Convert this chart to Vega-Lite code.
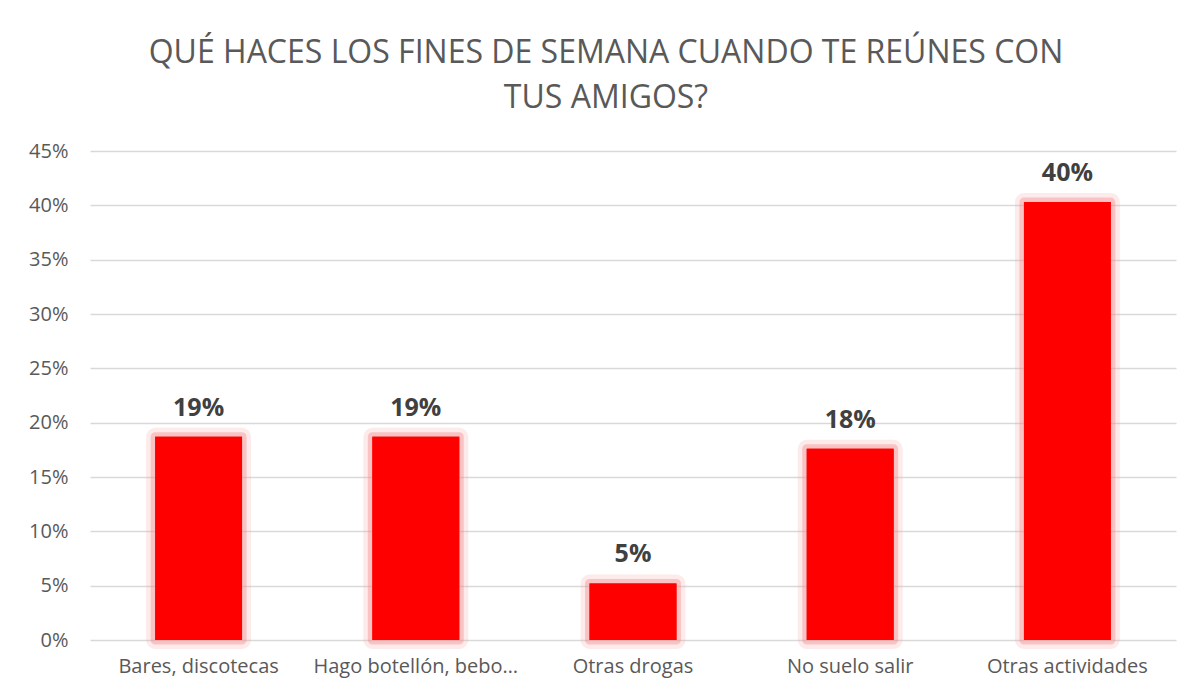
{
  "$schema": "https://vega.github.io/schema/vega-lite/v6.json",
  "autosize": "none",
  "width": 1086,
  "height": 489,
  "padding": {"left": 90, "top": 151, "right": 22, "bottom": 60},
  "background": "white",
  "config": {"view": {"stroke": null}, "font": "Open Sans"},
  "title": {
    "text": ["QUÉ HACES LOS FINES DE SEMANA CUANDO TE REÚNES CON", "TUS AMIGOS?"],
    "anchor": "middle",
    "frame": "group",
    "dx": -27,
    "fontSize": 32,
    "fontWeight": "normal",
    "font": "Open Sans",
    "color": "#595959",
    "lineHeight": 45,
    "offset": 26
  },
  "data": {
    "values": [
      {"cat": "Bares, discotecas", "v": 0.187, "label": "19%"},
      {"cat": "Hago botellón, bebo…", "v": 0.187, "label": "19%"},
      {"cat": "Otras drogas", "v": 0.052, "label": "5%"},
      {"cat": "No suelo salir", "v": 0.176, "label": "18%"},
      {"cat": "Otras actividades", "v": 0.403, "label": "40%"}
    ]
  },
  "encoding": {
    "x": {
      "field": "cat", "type": "nominal", "sort": null,
      "scale": {"paddingInner": 0.6, "paddingOuter": 0.3},
      "axis": {"title": null, "labelAngle": 0, "labelFontSize": 20, "labelColor": "#595959", "domain": false, "ticks": false, "labelPadding": 16, "labelFont": "Open Sans", "labelLimit": 400}
    },
    "y": {
      "field": "v", "type": "quantitative",
      "scale": {"domain": [0, 0.45]},
      "axis": {"title": null, "format": ".0%", "values": [0, 0.05, 0.1, 0.15, 0.2, 0.25, 0.3, 0.35, 0.4, 0.45], "labelFontSize": 20, "labelFont": "Open Sans", "labelColor": "#595959", "domain": false, "ticks": false, "labelPadding": 22, "gridColor": "#d9d9d9", "gridWidth": 1.5}
    }
  },
  "layer": [
    {"mark": {"type": "bar", "color": "red", "stroke": "#f4a0a0", "strokeWidth": 18, "strokeOpacity": 0.22, "strokeJoin": "round"}},
    {"mark": {"type": "bar", "color": "red", "stroke": "#f28a8a", "strokeWidth": 9, "strokeOpacity": 0.4, "strokeJoin": "round"}},
    {"mark": {"type": "bar", "color": "#ff0000"}},
    {"mark": {"type": "point", "shape": "M-1,-0.47H1V0.47H-1Z", "size": 1296, "filled": true, "color": "white", "opacity": 1, "yOffset": -24}},
    {"mark": {"type": "text", "fontSize": 25, "fontWeight": "bold", "font": "Open Sans", "color": "#404040", "dy": -29, "baseline": "middle"}, "encoding": {"text": {"field": "label"}}}
  ]
}
